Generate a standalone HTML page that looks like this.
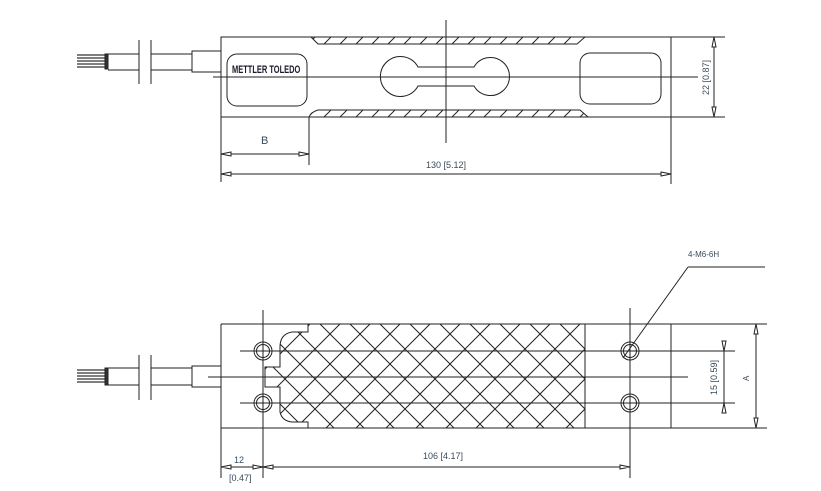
<!DOCTYPE html>
<html><head><meta charset="utf-8"><style>
html,body{margin:0;padding:0;background:#fff;width:821px;height:491px;overflow:hidden}
svg{display:block}
text{font-family:"Liberation Sans",sans-serif;fill:#3a4a5a}
</style></head><body>
<svg width="821" height="491" viewBox="0 0 821 491" xmlns="http://www.w3.org/2000/svg">
<defs>
<pattern id="xh" patternUnits="userSpaceOnUse" width="30" height="30" x="0" y="4">
<path d="M0,0 L30,30 M30,0 L0,30" stroke="#222" stroke-width="1" fill="none"/>
</pattern>
<clipPath id="hc"><path d="M308,324 L308,332 L292,332 Q280,334 280,347 L280,367 L265,367 L265,387 L280,387 L280,412 Q282,421 292,422 L308,422 L308,428 L585,428 L585,324 Z"/></clipPath>
<clipPath id="th"><path d="M311,37 L585,37 L577,44 L318,44 Z"/></clipPath>
<clipPath id="bh"><path d="M318,110 L580,110 L588,117 L309,117 Q311,112 318,110 Z"/></clipPath>
</defs>
<g fill="none" stroke="#222" stroke-width="1">
<!-- TOP VIEW -->
<path d="M77,55H105M77,58H105M77,61H105M77,64H105M77,67H105" stroke="#555" stroke-width="1.6"/>
<rect x="105" y="54" width="3" height="15" fill="#333"/>
<path d="M108,54H139M108,70H139M151,54H192M151,70H192"/>
<path d="M139,40V84M151,40V84"/>
<rect x="192" y="51" width="29" height="21"/>
<path d="M221,37H671V117H221Z"/>
<path d="M311,37 L318,44 H577 L585,37"/>
<path d="M309,117 Q311,112 318,110 H580 L588,117"/>
<g clip-path="url(#th)"><path d="M300,52 L320,32 M316,52 L336,32 M332,52 L352,32 M348,52 L368,32 M364,52 L384,32 M380,52 L400,32 M396,52 L416,32 M412,52 L432,32 M428,52 L448,32 M444,52 L464,32 M460,52 L480,32 M476,52 L496,32 M492,52 L512,32 M508,52 L528,32 M524,52 L544,32 M540,52 L560,32 M556,52 L576,32 M572,52 L592,32"/></g>
<g clip-path="url(#bh)"><path d="M300,125 L320,105 M316,125 L336,105 M332,125 L352,105 M348,125 L368,105 M364,125 L384,105 M380,125 L400,105 M396,125 L416,105 M412,125 L432,105 M428,125 L448,105 M444,125 L464,105 M460,125 L480,105 M476,125 L496,105 M492,125 L512,105 M508,125 L528,105 M524,125 L544,105 M540,125 L560,105 M556,125 L576,105 M572,125 L592,105"/></g>
<rect x="227" y="54" width="80" height="52" rx="10"/>
<rect x="580" y="53" width="81" height="51" rx="10"/>
<path d="M418,67 H474 A19,19 0 1 1 474,86 H418 A20,20 0 1 1 418,67 Z"/>
<path d="M213,77H698M446,20V143"/>
<path d="M671,37H725M671,117H725M714,37V117"/>
<path d="M714,37 l-2,10 h4z M714,117 l-2,-10 h4z" fill="#fff"/>
<path d="M221,117V182M309,117V165M671,117V184"/>
<path d="M221,154H309M221,174H671"/>
<path d="M221,154 l10,-2 v4z M309,154 l-10,-2 v4z M221,174 l10,-2 v4z M671,174 l-10,-2 v4z" fill="#fff"/>

<!-- BOTTOM VIEW -->
<path d="M77,370H105M77,373H105M77,376H105M77,379H105M77,382H105" stroke="#555" stroke-width="1.6"/>
<rect x="105" y="368" width="3" height="17" fill="#333"/>
<path d="M108,368H139M108,385H139M151,368H192M151,385H192"/>
<path d="M139,355V400M151,355V400"/>
<rect x="192" y="366" width="29" height="21"/>
<path d="M221,324H767M221,428H767M221,324V428M671,324V428"/>
<rect x="221" y="324" width="450" height="104" fill="url(#xh)" stroke="none" clip-path="url(#hc)"/>
<path d="M308,324 L308,332 L292,332 Q280,334 280,347 L280,367 L265,367 L265,387 L280,387 L280,412 Q282,421 292,422 L308,422 L308,428 M585,324V428"/>
<circle cx="263" cy="351" r="9"/><circle cx="263" cy="351" r="6.5"/>
<circle cx="263" cy="403" r="9"/><circle cx="263" cy="403" r="6.5"/>
<circle cx="630" cy="351" r="9"/><circle cx="630" cy="351" r="6.5"/>
<circle cx="630" cy="403" r="9"/><circle cx="630" cy="403" r="6.5"/>
<path d="M240,351H735M240,403H735M208,377H688"/>
<path d="M263,310V478M630,308V478"/>
<path d="M688,267H765M688,267L623,358"/>
<path d="M724,351V403M756,324V428"/>
<path d="M724,351 l-2,-10 h4z M724,403 l-2,10 h4z M756,324 l-2,10 h4z M756,428 l-2,-10 h4z" fill="#fff"/>
<path d="M221,428V478M221,467H263M263,467H630"/>
<path d="M221,467 l10,-2 v4z M263,467 l-10,-2 v4z M263,467 l10,-2 v4z M630,467 l-10,-2 v4z" fill="#fff"/>
</g>
<g font-size="9">
<text x="232" y="73" font-weight="bold" font-size="11" style="fill:#1a1a2a" transform="translate(232,0) scale(0.68,1) translate(-232,0)">METTLER TOLEDO</text>
<text x="261" y="144" font-size="11">B</text>
<text x="426" y="168">130 [5.12]</text>
<text transform="translate(709,95) rotate(-90)">22 [0.87]</text>
<text x="688" y="257" font-size="8">4-M6-6H</text>
<text transform="translate(717,395) rotate(-90)">15 [0.59]</text>
<text transform="translate(749,381) rotate(-90)" font-size="8">A</text>
<text x="234" y="463">12</text>
<text x="229" y="481">[0.47]</text>
<text x="423" y="459">106 [4.17]</text>
</g>
</svg>
</body></html>
